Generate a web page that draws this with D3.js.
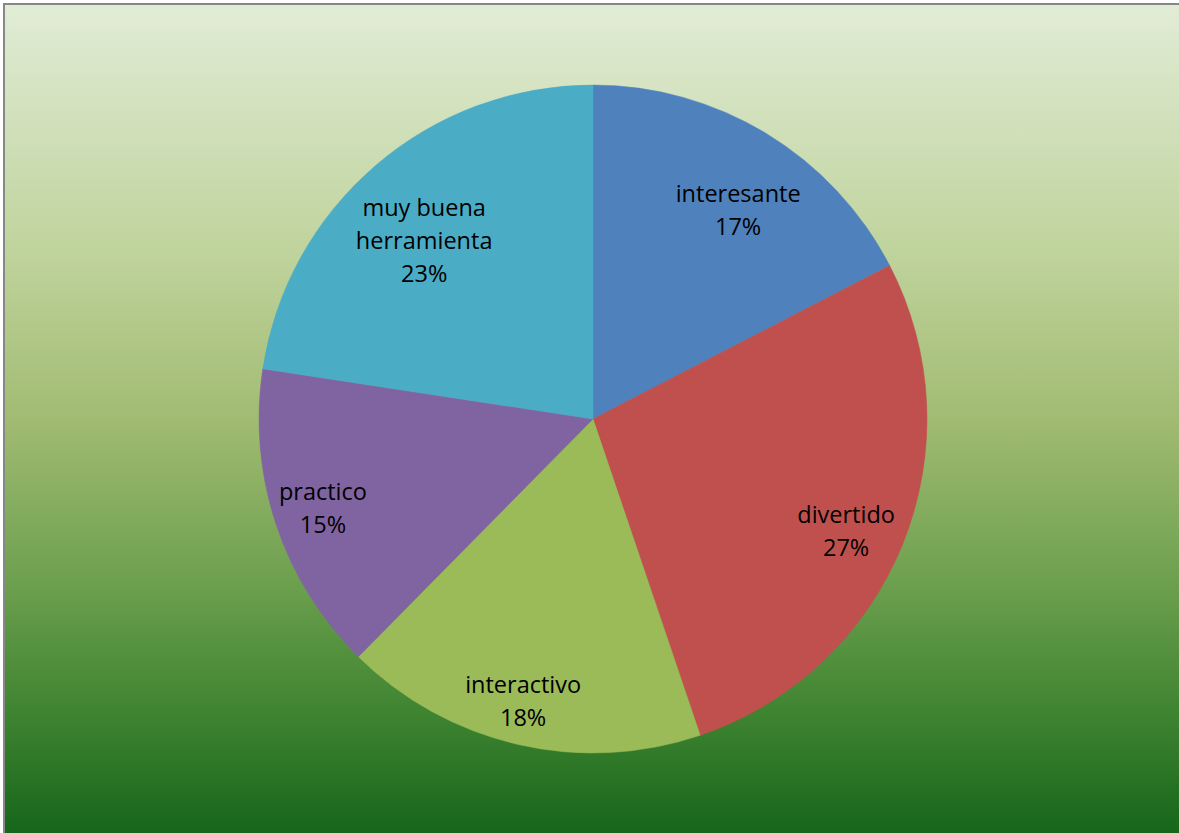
<!DOCTYPE html>
<html>
<head>
<meta charset="utf-8">
<script src="https://cdn.jsdelivr.net/npm/d3@7"></script>
<style>
  html, body { margin: 0; padding: 0; background: #ffffff; }
  svg { display: block; }
</style>
</head>
<body>
<svg id="chart" width="1179" height="833"></svg>
<script>
// Opinion categories and their shares (percent)
const categories = ["interesante", "divertido", "interactivo", "practico", "muy buena herramienta"];
const shares = [17.4, 27.4, 17.6, 15.0, 22.6];
// Label text lines for each category
const labelLines = [["interesante"], ["divertido"], ["interactivo"], ["practico"], ["muy buena", "herramienta"]];

const colors = ["#4f81bd", "#c0504d", "#9bbb59", "#8064a2", "#4bacc6"];
// label placement: distance (fraction of radius) and small angular nudge (degrees)
const labelRadius = [0.763, 0.828, 0.867, 0.851, 0.736];
const labelNudge = [3.4, 1.8, 1.0, 0.2, -2.7];

const W = 1179, H = 833;
const cx = 593, cy = 419, R = 334;

const svg = d3.select("#chart");

// Background gradient panel
const defs = svg.append("defs");
const grad = defs.append("linearGradient")
  .attr("id", "bg").attr("x1", 0).attr("y1", 0).attr("x2", 0).attr("y2", 1);
[
  [0, "#e1ecd6"],
  [0.3, "#bfd39c"],
  [0.5, "#a1bb72"],
  [0.7, "#6b9f4d"],
  [0.85, "#3f8431"],
  [1, "#15651a"]
].forEach(([o, c]) => grad.append("stop").attr("offset", o).attr("stop-color", c));

svg.append("rect")
  .attr("x", 4).attr("y", 4).attr("width", W).attr("height", H)
  .attr("fill", "url(#bg)")
  .attr("stroke", "#878787").attr("stroke-width", 2);

const data = categories.map((c, i) => ({ name: c, value: shares[i], i }));

const pie = d3.pie().value(d => d.value).sort(null);
const arc = d3.arc().innerRadius(0).outerRadius(R);

const g = svg.append("g").attr("transform", `translate(${cx},${cy})`);
const arcs = pie(data);

g.selectAll("path.slice")
  .data(arcs)
  .join("path")
  .attr("class", "slice")
  .attr("d", arc)
  .attr("fill", d => colors[d.data.i])
  .attr("stroke", d => colors[d.data.i])
  .attr("stroke-width", 0.5);

// Category + percentage labels
const lineH = 33;
arcs.forEach(d => {
  const i = d.data.i;
  const lr = labelRadius[i] * R;
  const a = (d.startAngle + d.endAngle) / 2 + labelNudge[i] * Math.PI / 180;
  const x = lr * Math.sin(a), y = -lr * Math.cos(a);
  const lines = labelLines[i].concat([Math.round(d.data.value) + "%"]);
  const t = g.append("text")
    .attr("x", x).attr("y", y)
    .attr("text-anchor", "middle")
    .attr("font-family", "'Open Sans', 'Noto Sans', sans-serif")
    .attr("font-size", 23.5)
    .attr("fill", "#000");
  lines.forEach((ln, k) => {
    t.append("tspan")
      .attr("x", x)
      .attr("y", y + (k - (lines.length - 1) / 2) * lineH)
      .attr("dominant-baseline", "central")
      .text(ln);
  });
});
</script>
</body>
</html>
